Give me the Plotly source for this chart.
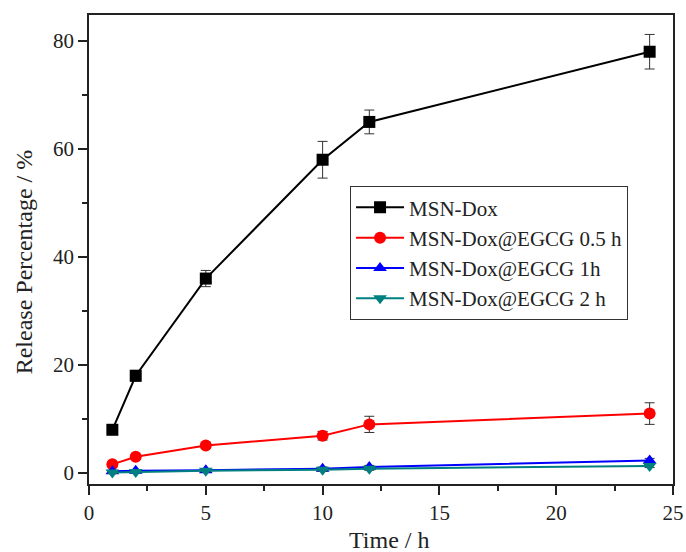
import plotly.graph_objects as go

time_h = [1, 2, 5, 10, 12, 24]
msn_dox = [8, 18, 36, 58, 65, 78]
msn_dox_err = [0.6, 1.0, 1.5, 3.4, 2.2, 3.2]
egcg_05 = [1.6, 3.0, 5.1, 6.9, 9.0, 11.0]
egcg_05_err = [0.3, 0.4, 0.5, 0.8, 1.5, 2.0]
egcg_1 = [0.3, 0.4, 0.5, 0.8, 1.1, 2.3]
egcg_1_err = [0.2, 0.2, 0.2, 0.3, 0.3, 0.4]
egcg_2 = [0.1, 0.2, 0.4, 0.6, 0.8, 1.3]
egcg_2_err = [0.2, 0.2, 0.2, 0.3, 0.3, 0.3]

names = ["MSN-Dox", "MSN-Dox@EGCG 0.5 h", "MSN-Dox@EGCG 1h", "MSN-Dox@EGCG 2 h"]
series = [msn_dox, egcg_05, egcg_1, egcg_2]
errors = [msn_dox_err, egcg_05_err, egcg_1_err, egcg_2_err]
colors = ["#000000", "#ff0000", "#0000ff", "#008080"]
symbols = ["square", "circle", "triangle-up", "triangle-down"]
x_title = "Time / h"
y_title = "Release Percentage / %"

fig = go.Figure()
for n, ys, es, c, s in zip(names, series, errors, colors, symbols):
    fig.add_trace(go.Scatter(
        x=time_h, y=ys, name=n, mode="lines+markers",
        line=dict(color=c, width=2),
        marker=dict(symbol=s, size=12, color=c),
        error_y=dict(type="data", array=es, visible=True, color="#333333",
                     thickness=1, width=5),
    ))

font = "Liberation Serif, Times New Roman, serif"
fig.update_layout(
    width=686, height=552,
    margin=dict(l=89, r=13, t=15, b=68),
    paper_bgcolor="white", plot_bgcolor="white",
    font=dict(family=font, size=21, color="#222222"),
    showlegend=True,
    legend=dict(x=0.447, y=0.635, xanchor="left", yanchor="top",
                bordercolor="#333333", borderwidth=1, bgcolor="white",
                font=dict(family=font, size=21, color="#222222"),
                tracegroupgap=0, itemwidth=48),
    xaxis=dict(
        range=[0, 25], tickvals=[0, 5, 10, 15, 20, 25], automargin=False,
        ticklabeloverflow="allow",
        ticks="outside", ticklen=9, tickwidth=1.5, tickcolor="#222222",
        showline=True, linecolor="#222222", linewidth=1.5, mirror=True,
        showgrid=False, zeroline=False,
        minor=dict(tickvals=[2.5, 7.5, 12.5, 17.5, 22.5], ticks="outside",
                   ticklen=5, tickwidth=1.5, tickcolor="#222222"),
    ),
    yaxis=dict(
        range=[-2.04, 84.8], tickvals=[0, 20, 40, 60, 80], automargin=False,
        ticklabeloverflow="allow",
        ticks="outside", ticklen=9, tickwidth=1.5, tickcolor="#222222",
        showline=True, linecolor="#222222", linewidth=1.5, mirror=True,
        showgrid=False, zeroline=False,
        minor=dict(tickvals=[10, 30, 50, 70], ticks="outside",
                   ticklen=5, tickwidth=1.5, tickcolor="#222222"),
    ),
    annotations=[
        dict(text=x_title, xref="paper", yref="paper", x=0.514, y=-0.119,
             xanchor="center", yanchor="middle", showarrow=False,
             font=dict(family=font, size=24, color="#222222")),
        dict(text=y_title, xref="paper", yref="paper", x=-0.111, y=0.473,
             xanchor="center", yanchor="middle", showarrow=False, textangle=-90,
             font=dict(family=font, size=24, color="#222222")),
    ],
)

fig.write_html("out.html", config={"displayModeBar": False},
               post_script="document.body.style.margin='0';document.body.style.overflow='hidden';")
